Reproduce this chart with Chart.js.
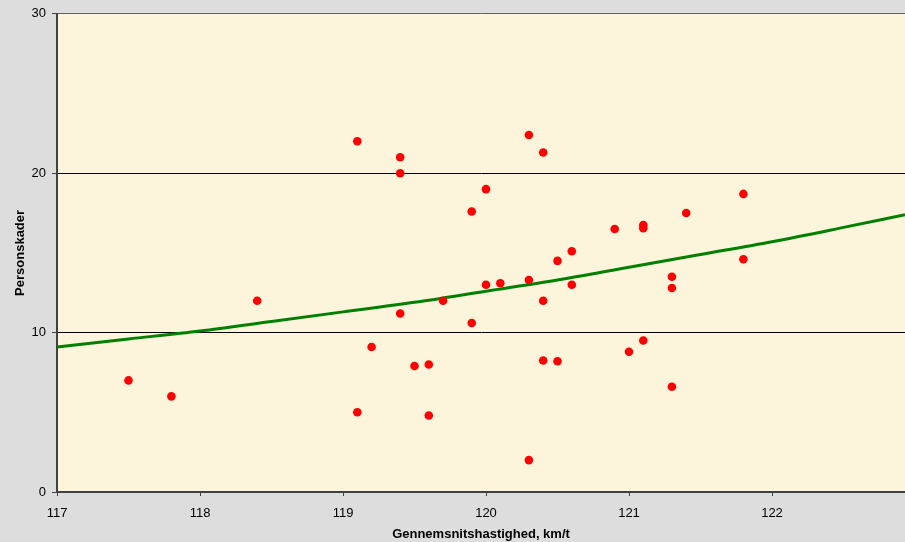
<!DOCTYPE html>
<html>
<head>
<meta charset="utf-8">
<script src="https://cdn.jsdelivr.net/npm/chart.js@4/dist/chart.umd.min.js"></script>
<style>
  html, body { margin: 0; padding: 0; background: #dddddd; }
  #wrap { width: 905px; height: 542px; }
</style>
</head>
<body>
<div id="wrap"><canvas id="chart" width="905" height="542"></canvas></div>
<script>
// speed (km/t) and injuries
const speeds = [117.5, 117.8, 118.4, 119.1, 119.1, 119.2, 119.4, 119.4, 119.4, 119.5,
                119.6, 119.6, 119.7, 119.9, 119.9, 120.0, 120.0, 120.1, 120.3, 120.3,
                120.3, 120.4, 120.4, 120.4, 120.5, 120.5, 120.6, 120.6, 120.9, 121.0,
                121.1, 121.1, 121.1, 121.3, 121.3, 121.3, 121.4, 121.8, 121.8];
const injuries = [7.0, 6.0, 12.0, 22.0, 5.0, 9.1, 21.0, 20.0, 11.2, 7.9,
                  8.0, 4.8, 12.0, 17.6, 10.6, 19.0, 13.0, 13.1, 22.4, 13.3,
                  2.0, 21.3, 12.0, 8.25, 14.5, 8.2, 15.1, 13.0, 16.5, 8.8,
                  16.75, 16.55, 9.5, 13.5, 12.8, 6.6, 17.5, 18.7, 14.6];

// trend curve, read at a few points
const trendX = [117.0, 117.5, 118.0, 118.5, 119.0, 119.5, 120.0, 120.5, 121.0, 121.5, 122.0, 122.5, 122.93];
const trendY = [9.1, 9.6, 10.1, 10.7, 11.3, 11.9, 12.6, 13.3, 14.1, 14.9, 15.7, 16.6, 17.4];

const xTicks = [117, 118, 119, 120, 121, 122];
const yTicks = [0, 10, 20, 30];

const plotBg = {
    id: 'plotBg',
    beforeDraw(chart) {
        const a = chart.chartArea, ctx = chart.ctx;
        ctx.save();
        ctx.fillStyle = '#fdf4dc';
        ctx.fillRect(a.left, a.top, a.right - a.left, a.bottom - a.top);
        ctx.restore();
    }
};

new Chart(document.getElementById('chart'), {
    type: 'scatter',
    data: {
        datasets: [
            {
                label: 'Personskader',
                data: speeds.map((s, i) => ({x: s, y: injuries[i]})),
                backgroundColor: '#ff0000',
                borderWidth: 0,
                pointRadius: 4.3,
                pointHoverRadius: 4.3,
                order: 1
            },
            {
                label: 'Trend',
                type: 'line',
                data: trendX.map((s, i) => ({x: s, y: trendY[i]})),
                borderColor: '#008000',
                borderWidth: 3,
                pointRadius: 0,
                tension: 0.4,
                cubicInterpolationMode: 'monotone',
                fill: false,
                order: 2
            }
        ]
    },
    options: {
        responsive: false,
        animation: false,
        layout: { autoPadding: false, padding: { top: 12, right: 0, left: 0, bottom: 0 } },
        plugins: { legend: { display: false }, tooltip: { enabled: false } },
        scales: {
            x: {
                type: 'linear',
                min: 117,
                max: 122.93,
                afterBuildTicks: s => { s.ticks = xTicks.map(v => ({value: v})); },
                afterFit: s => { s.height = 50; s.paddingRight = 0; s.paddingLeft = 0; },
                grid: { drawOnChartArea: false, drawTicks: true, tickLength: 4, color: '#404040', tickColor: '#404040' },
                border: { display: true, color: '#404040', width: 2 },
                ticks: { color: '#000', font: { family: 'Liberation Sans', size: 13 }, padding: 10, maxRotation: 0 },
                title: { display: true, text: 'Gennemsnitshastighed, km/t', color: '#000',
                         font: { family: 'Liberation Sans', size: 13, weight: 'bold' }, padding: { top: 4, bottom: 0 } }
            },
            y: {
                min: 0,
                max: 30,
                afterBuildTicks: s => { s.ticks = yTicks.map(v => ({value: v})); },
                afterFit: s => { s.width = 57; },
                grid: {
                    color: c => c.tick.value === 30 ? '#606060' : (c.tick.value === 0 ? 'rgba(0,0,0,0)' : '#000'),
                    lineWidth: 1,
                    tickLength: 5,
                    tickColor: '#404040'
                },
                border: { display: true, color: '#404040', width: 2 },
                ticks: { color: '#000', font: { family: 'Liberation Sans', size: 13 }, padding: 6 },
                title: { display: true, text: 'Personskader', color: '#000',
                         font: { family: 'Liberation Sans', size: 13, weight: 'bold' }, padding: { top: 13, bottom: 6 } }
            }
        }
    },
    plugins: [plotBg]
});
</script>
</body>
</html>
